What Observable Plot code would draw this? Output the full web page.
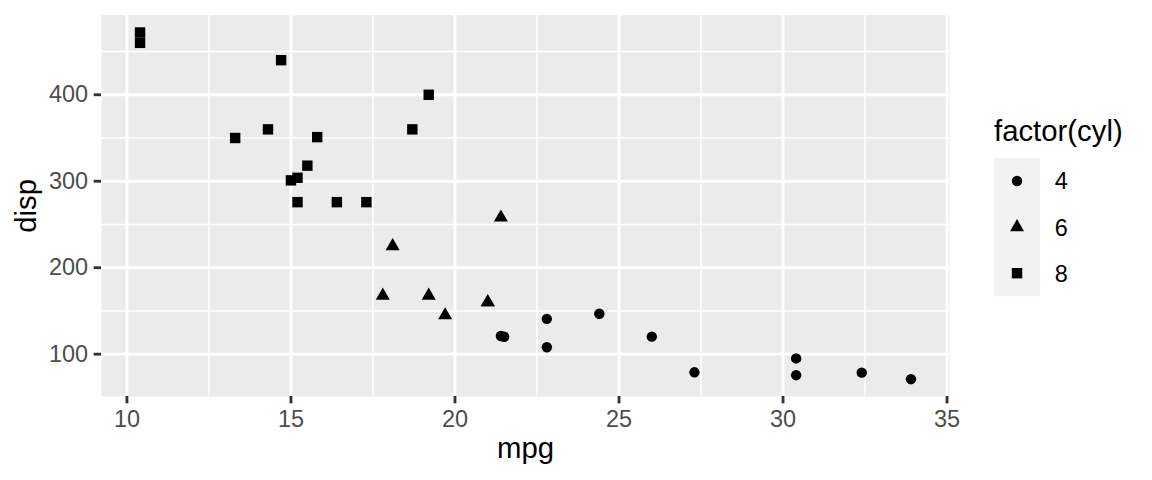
<!DOCTYPE html>
<html>
<head>
<meta charset="utf-8">
<script src="https://cdn.jsdelivr.net/npm/d3@7"></script>
<script src="https://cdn.jsdelivr.net/npm/@observablehq/plot@0.6"></script>
<style>
  html, body { margin: 0; padding: 0; background: #fff; }
  #wrap { position: relative; width: 1152px; height: 480px; font-family: "Liberation Sans", Arial, sans-serif; }
  #legend { position: absolute; left: 0; top: 0; }
</style>
</head>
<body>
<div id="wrap"></div>
<script>
const mpg  = [21.0, 21.0, 22.8, 21.4, 18.7, 18.1, 14.3, 24.4, 22.8, 19.2, 17.8, 16.4, 17.3, 15.2, 10.4, 10.4,
              14.7, 32.4, 30.4, 33.9, 21.5, 15.5, 15.2, 13.3, 19.2, 27.3, 26.0, 30.4, 15.8, 19.7, 15.0, 21.4];
const disp = [160, 160, 108, 258, 360, 225, 360, 146.7, 140.8, 167.6, 167.6, 275.8, 275.8, 275.8, 472, 460,
              440, 78.7, 75.7, 71.1, 120.1, 318, 304, 350, 400, 79, 120.3, 95.1, 351, 145, 301, 121];
const cyl  = [6, 6, 4, 6, 8, 6, 8, 4, 4, 6, 6, 8, 8, 8, 8, 8,
              8, 4, 4, 4, 4, 8, 8, 8, 8, 4, 4, 4, 8, 6, 8, 4];
const cylLevels = [4, 6, 8];
const symbols = ["circle", "triangle", "square"];
const xTicks = [10, 15, 20, 25, 30, 35];
const xMinor = [12.5, 17.5, 22.5, 27.5, 32.5];
const yTicks = [100, 200, 300, 400];
const yMinor = [150, 250, 350, 450];

const data = mpg.map((m, i) => ({mpg: m, disp: disp[i], cyl: cyl[i]}));

// ggplot-like expansion (5%)
const xe = (d3.max(mpg) - d3.min(mpg)) * 0.05;
const ye = (d3.max(disp) - d3.min(disp)) * 0.05;

const S = 192 / 72; // px per pt
const tickLen = 2.75 * S;
const majorW = 0.5 * 72.27 / 25.4 / 96 * 192;
const minorW = majorW / 2;
const baseR = 0.375 * (1.5 * 72.27 / 25.4 + 0.5 * 96 / 25.4 / 2) * S; // pch radius in px
const rFor = {circle: baseR, triangle: baseR, square: baseR * 2 / Math.sqrt(Math.PI)};

const tickFont = 8.8 * S;
const titleFont = 11 * S;

const dotMarks = cylLevels.map((c, i) =>
  Plot.dot(data, {filter: d => d.cyl === c, x: "mpg", y: "disp", symbol: symbols[i], r: rFor[symbols[i]], fill: "black", stroke: "none"})
);

const chart = Plot.plot({
  width: 1152,
  height: 480,
  marginLeft: 101,
  marginRight: 203,
  marginTop: 5.5 * S,
  marginBottom: 84,
  style: {fontFamily: "Liberation Sans, Arial, sans-serif", background: "white"},
  x: {domain: [d3.min(mpg) - xe, d3.max(mpg) + xe]},
  y: {domain: [d3.min(disp) - ye, d3.max(disp) + ye]},
  marks: [
    Plot.frame({fill: "#EBEBEB", stroke: "none"}),
    Plot.ruleX(xMinor, {stroke: "white", strokeWidth: minorW}),
    Plot.ruleY(yMinor, {stroke: "white", strokeWidth: minorW}),
    Plot.ruleX(xTicks, {stroke: "white", strokeWidth: majorW}),
    Plot.ruleY(yTicks, {stroke: "white", strokeWidth: majorW}),
    Plot.axisX({ticks: xTicks, tickFormat: d3.format("d"), tickSize: tickLen, tickPadding: 6, fontSize: tickFont,
                stroke: "#333333", strokeWidth: majorW, fill: "#4D4D4D", label: null}),
    Plot.axisY({ticks: yTicks, tickFormat: d3.format("d"), tickSize: tickLen, tickPadding: 6, fontSize: tickFont,
                stroke: "#333333", strokeWidth: majorW, fill: "#4D4D4D", label: null}),
    ...dotMarks,
    Plot.text(["mpg"], {frameAnchor: "bottom", lineAnchor: "bottom", dy: 61, fontSize: titleFont, fill: "black", text: d => d}),
    Plot.text(["disp"], {frameAnchor: "left", textAnchor: "middle", rotate: -90, dx: -86, lineAnchor: "top", fontSize: titleFont, fill: "black", text: d => d})
  ]
});

const wrap = document.getElementById("wrap");
wrap.appendChild(chart);

// Legend
const lg = d3.select(wrap).append("svg").attr("id", "legend").attr("width", 1152).attr("height", 480);
const keyX = 994, keyW = 46.08, keyH = 46.08, keyTop = 158;
lg.append("text").attr("x", keyX).attr("y", 141).attr("font-size", titleFont).attr("fill", "black").text("factor(cyl)");
lg.append("rect").attr("x", keyX).attr("y", keyTop).attr("width", keyW).attr("height", keyH * 3).attr("fill", "#F2F2F2");
const symType = {circle: d3.symbolCircle, triangle: d3.symbolTriangle, square: d3.symbolSquare};
cylLevels.forEach((c, i) => {
  const cy = keyTop + keyH * (i + 0.5);
  const s = symbols[i];
  lg.append("path")
    .attr("transform", `translate(${keyX + keyW / 2},${cy})`)
    .attr("d", d3.symbol(symType[s], Math.PI * rFor[s] * rFor[s])())
    .attr("fill", "black");
  lg.append("text").attr("x", keyX + keyW + 5.5 * S).attr("y", cy).attr("dy", "0.36em")
    .attr("font-size", tickFont).attr("fill", "black").text(String(c));
});
</script>
</body>
</html>
